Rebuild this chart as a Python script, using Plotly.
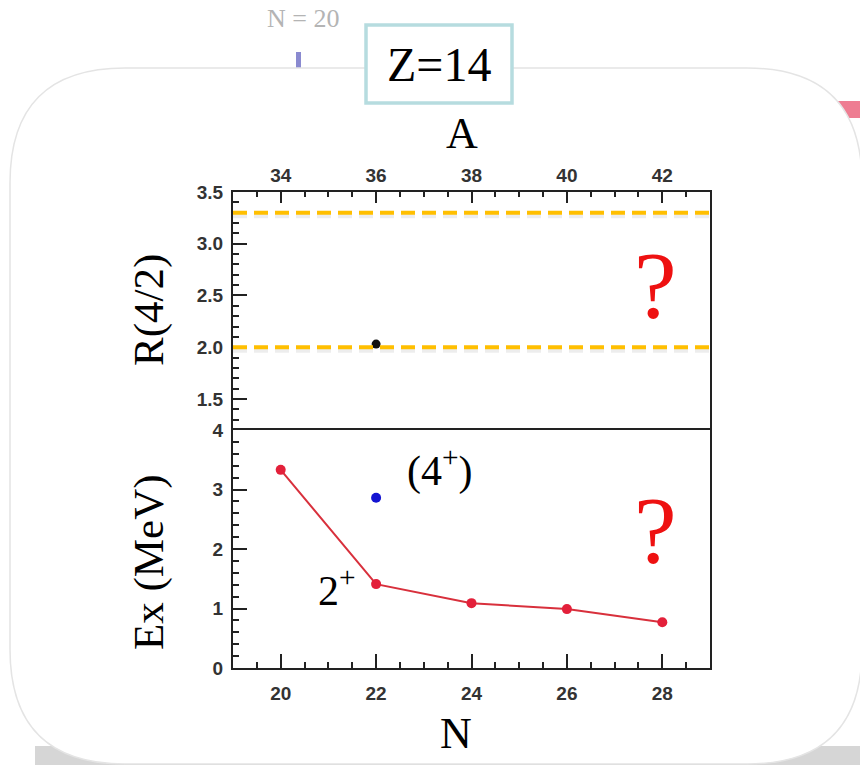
import plotly.graph_objects as go

# ---- data -------------------------------------------------------------
N_2plus = [20, 22, 24, 26, 28]            # neutron number
E_2plus = [3.33, 1.41, 1.09, 0.99, 0.77]  # first 2+ energy (MeV)
N_4plus = [22]
E_4plus = [2.86]                          # tentative (4+) level (MeV)
A_ratio = [36]                            # mass number
R42 = [2.03]                              # E(4+)/E(2+)
R_limits = [2.0, 3.3]                     # vibrator / rotor reference lines

N_ticks = [20, 22, 24, 26, 28]
A_ticks = [34, 36, 38, 40, 42]
E_ticks = [0, 1, 2, 3, 4]
R_ticks = [1.5, 2.0, 2.5, 3.0, 3.5]

# ---- geometry helpers (pixel -> paper) ---------------------------------
W, H = 860, 765


def px(x):
    return x / W


def py(y):
    return 1 - y / H


X_DOM = [px(233), px(710)]
Y_BOT = [py(668), py(430)]
Y_TOP = [py(430), py(192)]

SERIF = "Liberation Serif, Times New Roman, serif"
SANS = "Liberation Sans, Arial, sans-serif"
AXC = "#222222"
TICKFONT = dict(family=SANS, size=19, color="#333333", weight="bold")

fig = go.Figure()

# Ex panel
fig.add_trace(go.Scatter(
    x=N_2plus, y=E_2plus, mode="lines+markers",
    line=dict(color="#d8303c", width=2),
    marker=dict(color="#e3203a", size=10),
    xaxis="x", yaxis="y", showlegend=False))
fig.add_trace(go.Scatter(
    x=N_4plus, y=E_4plus, mode="markers",
    marker=dict(color="#1414d2", size=10),
    xaxis="x", yaxis="y", showlegend=False))

# R(4/2) panel
fig.add_trace(go.Scatter(
    x=A_ratio, y=R42, mode="markers",
    marker=dict(color="#111111", size=9),
    xaxis="x2", yaxis="y2", showlegend=False))

shapes = []

# background remnants outside the rounded panel
shapes.append(dict(type="rect", xref="paper", yref="paper",
                   x0=px(35), x1=px(860), y0=py(765), y1=py(746),
                   fillcolor="#d6d6d6", line=dict(width=0), layer="below"))
shapes.append(dict(type="rect", xref="paper", yref="paper",
                   x0=px(835), x1=px(860), y0=py(118), y1=py(101),
                   fillcolor="#ee7d92", line=dict(width=0), layer="below"))
shapes.append(dict(type="rect", xref="paper", yref="paper",
                   x0=px(296), x1=px(301), y0=py(70), y1=py(52),
                   fillcolor="#8a8ad0", line=dict(width=0), layer="below"))

# rounded white panel
L, T, R, B, RAD = 10, 68, 862, 764, 115


def P(x, y):
    return f"{px(x):.5f},{py(y):.5f}"


panel = (f"M {P(L + RAD, T)} L {P(R - RAD, T)} Q {P(R, T)} {P(R, T + RAD)} "
         f"L {P(R, B - RAD)} Q {P(R, B)} {P(R - RAD, B)} "
         f"L {P(L + RAD, B)} Q {P(L, B)} {P(L, B - RAD)} "
         f"L {P(L, T + RAD)} Q {P(L, T)} {P(L + RAD, T)} Z")
shapes.append(dict(type="path", xref="paper", yref="paper", path=panel,
                   fillcolor="white", line=dict(color="#e4e4e4", width=1.5),
                   layer="below"))

# Z=14 label box
shapes.append(dict(type="rect", xref="paper", yref="paper",
                   x0=px(366), x1=px(512), y0=py(103), y1=py(25),
                   fillcolor="white", line=dict(color="#b6dcdf", width=3.5),
                   layer="above"))

# reference ratio lines with a soft drop shadow
for v in R_limits:
    shapes.append(dict(type="line", xref="x2 domain", yref="y2",
                       x0=0, x1=1, y0=v - 0.035, y1=v - 0.035,
                       line=dict(color="rgba(0,0,0,0.07)", width=4,
                                 dash="14px,7px"), layer="above"))
    shapes.append(dict(type="line", xref="x2 domain", yref="y2",
                       x0=0, x1=1, y0=v, y1=v,
                       line=dict(color="#ffbf00", width=4, dash="14px,7px"),
                       layer="above"))

annotations = []


def note(text, x, y, size, color="black", family=SERIF, angle=0):
    annotations.append(dict(text=text, x=px(x), y=py(y), xref="paper",
                            yref="paper", xanchor="center", yanchor="middle",
                            showarrow=False, textangle=angle,
                            font=dict(family=family, size=size, color=color)))


note("N = 20", 303, 18, 26, color="#b4b4b4", family=SERIF)
note("Z=14", 439, 64, 48)
note("A", 462, 133, 44)
note("N", 456, 733, 44)
note("R(4/2)", 149, 310, 43, angle=-90)
note("Ex (MeV)", 149, 562, 43, angle=-90)
note("?", 655, 285, 96, color="#ee1111")
note("?", 655, 530, 96, color="#ee1111")
note("(4<sup>+</sup>)", 440, 468, 42)
note("2<sup>+</sup>", 337, 587, 42)

common = dict(showline=True, linecolor=AXC, linewidth=2,
              ticks="inside", tickcolor=AXC, tickwidth=2,
              showgrid=False, zeroline=False, tickfont=TICKFONT,
              fixedrange=True, tickmode="linear")


def minor(step, length=6):
    return dict(dtick=step, tick0=0, ticks="inside", ticklen=length,
                tickwidth=1.6, tickcolor=AXC, showgrid=False)


fig.update_layout(
    width=W, height=H,
    margin=dict(l=0, r=0, t=0, b=0, pad=0, autoexpand=False),
    paper_bgcolor="white", plot_bgcolor="rgba(0,0,0,0)",
    shapes=shapes, annotations=annotations,
    xaxis=dict(domain=X_DOM, range=[19, 29], anchor="y", mirror=True,
               tick0=N_ticks[0], dtick=N_ticks[1] - N_ticks[0], ticklen=14,
               ticklabelstandoff=7, minor=minor(0.5), **common),
    yaxis=dict(domain=Y_BOT, range=[0, 4], anchor="x", mirror=True,
               tick0=E_ticks[0], dtick=E_ticks[1] - E_ticks[0], ticklen=14,
               ticklabelstandoff=4, minor=minor(0.2), **common),
    xaxis2=dict(domain=X_DOM, range=[33, 43], anchor="y2", side="top",
                mirror=False,
                tick0=A_ticks[0], dtick=A_ticks[1] - A_ticks[0], ticklen=11,
                ticklabelstandoff=0, minor=minor(0.5, 5), **common),
    yaxis2=dict(domain=Y_TOP, range=[1.2, 3.5], anchor="x2", mirror=True,
                tick0=R_ticks[0], dtick=R_ticks[1] - R_ticks[0],
                tickformat=".1f", ticklen=14, ticklabelstandoff=4,
                minor=minor(0.1), **common),
)

fig.write_html("out.html")
